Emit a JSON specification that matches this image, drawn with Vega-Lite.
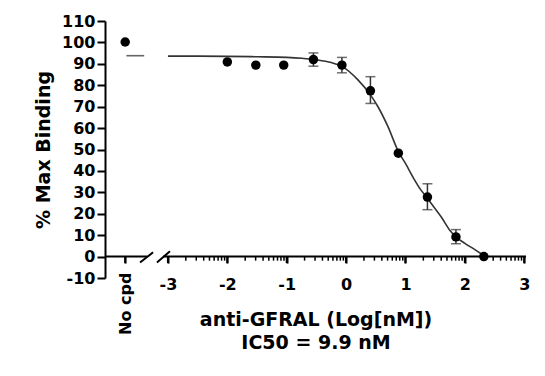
{
  "$schema": "https://vega.github.io/schema/vega-lite/v6.json",
  "width": 421,
  "height": 257,
  "autosize": {"type": "none"},
  "padding": {"left": 105, "top": 21, "right": 19, "bottom": 98},
  "background": "white",
  "config": {"view": {"stroke": null}, "font": "DejaVu Sans"},
  "resolve": {"axis": {"x": "independent", "y": "independent"}},
  "datasets": {
    "axisline": [
      {"x": -4.06, "x2": -3.35, "y": 0},
      {"x": -3.08, "x2": 3.03, "y": 0}
    ],
    "majorticks": [
      {"x": -3.72}, {"x": -3}, {"x": -2}, {"x": -1}, {"x": 0}, {"x": 1}, {"x": 2}, {"x": 3}
    ],
    "minorticks": [
      {"x": -2.69897}, {"x": -2.52288}, {"x": -2.39794}, {"x": -2.30103}, {"x": -2.22185}, {"x": -2.1549}, {"x": -2.09691}, {"x": -2.04576},
      {"x": -1.69897}, {"x": -1.52288}, {"x": -1.39794}, {"x": -1.30103}, {"x": -1.22185}, {"x": -1.1549}, {"x": -1.09691}, {"x": -1.04576},
      {"x": -0.69897}, {"x": -0.52288}, {"x": -0.39794}, {"x": -0.30103}, {"x": -0.22185}, {"x": -0.1549}, {"x": -0.09691}, {"x": -0.04576},
      {"x": 0.30103}, {"x": 0.47712}, {"x": 0.60206}, {"x": 0.69897}, {"x": 0.77815}, {"x": 0.8451}, {"x": 0.90309}, {"x": 0.95424},
      {"x": 1.30103}, {"x": 1.47712}, {"x": 1.60206}, {"x": 1.69897}, {"x": 1.77815}, {"x": 1.8451}, {"x": 1.90309}, {"x": 1.95424},
      {"x": 2.30103}, {"x": 2.47712}, {"x": 2.60206}, {"x": 2.69897}, {"x": 2.77815}, {"x": 2.8451}, {"x": 2.90309}, {"x": 2.95424}
    ],
    "slashes": [
      {"x": -3.47, "x2": -3.25, "y": -2.8, "y2": 2.0},
      {"x": -3.185, "x2": -2.966, "y": -2.8, "y2": 2.5}
    ],
    "curve": [
      {"x": -3.0, "y": 93.6},
      {"x": -2.5, "y": 93.6},
      {"x": -2.0, "y": 93.5},
      {"x": -1.5, "y": 93.3},
      {"x": -1.0, "y": 93.0},
      {"x": -0.75, "y": 92.6},
      {"x": -0.5, "y": 91.9},
      {"x": -0.25, "y": 90.6},
      {"x": -0.07, "y": 88.8},
      {"x": 0.2, "y": 82.5},
      {"x": 0.41, "y": 75.5},
      {"x": 0.53, "y": 70.3},
      {"x": 0.7, "y": 61.0},
      {"x": 0.89, "y": 48.5},
      {"x": 1.0, "y": 43.5},
      {"x": 1.145, "y": 36.2},
      {"x": 1.25, "y": 31.5},
      {"x": 1.37, "y": 27.2},
      {"x": 1.5, "y": 22.3},
      {"x": 1.6, "y": 18.6},
      {"x": 1.76, "y": 11.8},
      {"x": 1.85, "y": 9.2},
      {"x": 2.0, "y": 6.2},
      {"x": 2.15, "y": 3.6},
      {"x": 2.32, "y": 0.5}
    ],
    "dash": [
      {"x": -3.70, "y": 93.8},
      {"x": -3.40, "y": 93.8}
    ],
    "errors": [
      {"x": -0.55, "lo": 88.9, "hi": 95.1},
      {"x": -0.07, "lo": 85.8, "hi": 93.0},
      {"x": 0.41, "lo": 71.5, "hi": 84.0},
      {"x": 1.37, "lo": 21.9, "hi": 34.0},
      {"x": 1.85, "lo": 6.0, "hi": 12.6}
    ],
    "points": [
      {"x": -3.72, "y": 100.2},
      {"x": -2.0, "y": 90.9},
      {"x": -1.52, "y": 89.4},
      {"x": -1.05, "y": 89.4},
      {"x": -0.55, "y": 92.0},
      {"x": -0.07, "y": 89.4},
      {"x": 0.41, "y": 77.4},
      {"x": 0.88, "y": 48.3},
      {"x": 1.37, "y": 27.8},
      {"x": 1.85, "y": 9.2},
      {"x": 2.32, "y": 0.0}
    ]
  },
  "layer": [
    {
      "data": {"name": "axisline"},
      "mark": {"type": "rule", "color": "black", "strokeWidth": 2},
      "encoding": {
        "x": {
          "field": "x",
          "type": "quantitative",
          "scale": {"domain": [-4.06, 3.03], "nice": false, "zero": false},
          "axis": {
            "orient": "bottom",
            "offset": -21.42,
            "domain": false,
            "grid": false,
            "values": [-3, -2, -1, 0, 1, 2, 3],
            "labelExpr": "'' + round(datum.value)",
            "labelOverlap": false,
            "labelFlush": false,
            "labelFont": "DejaVu Sans",
            "labelFontSize": 16,
            "labelFontWeight": "bold",
            "labelColor": "black",
            "labelPadding": 13,
            "tickColor": "black",
            "tickWidth": 2,
            "tickSize": 6.5,
            "title": ["anti-GFRAL (Log[nM])", "IC50 = 9.9 nM"],
            "titleFont": "DejaVu Sans",
            "titleFontSize": 19,
            "titleFontWeight": "bold",
            "titleColor": "black",
            "titleLineHeight": 23,
            "titleBaseline": "top",
            "titleY": 54
          }
        },
        "x2": {"field": "x2"},
        "y": {
          "field": "y",
          "type": "quantitative",
          "scale": {"domain": [-10, 110], "nice": false, "zero": false},
          "axis": {
            "orient": "left",
            "values": [-10, 0, 10, 20, 30, 40, 50, 60, 70, 80, 90, 100, 110],
            "labelExpr": "'' + datum.value",
            "labelOverlap": false,
            "grid": false,
            "domainColor": "black",
            "domainWidth": 2,
            "tickColor": "black",
            "tickWidth": 2,
            "tickSize": 8,
            "labelFont": "DejaVu Sans",
            "labelFontSize": 16,
            "labelFontWeight": "bold",
            "labelColor": "black",
            "labelPadding": 2,
            "title": "% Max Binding",
            "titleFont": "DejaVu Sans",
            "titleFontSize": 19,
            "titleFontWeight": "bold",
            "titleColor": "black",
            "titlePadding": 8
          }
        }
      }
    },
    {
      "data": {"name": "majorticks"},
      "mark": {"type": "rule", "color": "black", "strokeWidth": 2},
      "encoding": {
        "x": {"field": "x", "type": "quantitative", "axis": null},
        "y": {"datum": 0, "type": "quantitative", "axis": null},
        "y2": {"datum": -3.0}
      }
    },
    {
      "data": {"name": "minorticks"},
      "mark": {"type": "rule", "color": "black", "strokeWidth": 1.5},
      "encoding": {
        "x": {"field": "x", "type": "quantitative", "axis": null},
        "y": {"datum": 0, "type": "quantitative", "axis": null},
        "y2": {"datum": -1.9}
      }
    },
    {
      "data": {"name": "slashes"},
      "mark": {"type": "rule", "color": "black", "strokeWidth": 2},
      "encoding": {
        "x": {"field": "x", "type": "quantitative", "axis": null},
        "x2": {"field": "x2"},
        "y": {"field": "y", "type": "quantitative", "axis": null},
        "y2": {"field": "y2"}
      }
    },
    {
      "data": {"name": "curve"},
      "mark": {"type": "line", "color": "#333333", "strokeWidth": 1.6, "interpolate": "monotone"},
      "encoding": {
        "x": {"field": "x", "type": "quantitative", "axis": null},
        "y": {"field": "y", "type": "quantitative", "axis": null}
      }
    },
    {
      "data": {"name": "dash"},
      "mark": {"type": "line", "color": "#666666", "strokeWidth": 1.6},
      "encoding": {
        "x": {"field": "x", "type": "quantitative", "axis": null},
        "y": {"field": "y", "type": "quantitative", "axis": null}
      }
    },
    {
      "data": {"name": "errors"},
      "mark": {"type": "rule", "color": "#333333", "strokeWidth": 1.5},
      "encoding": {
        "x": {"field": "x", "type": "quantitative", "axis": null},
        "y": {"field": "lo", "type": "quantitative", "axis": null},
        "y2": {"field": "hi"}
      }
    },
    {
      "data": {"name": "errors"},
      "mark": {"type": "tick", "color": "#333333", "thickness": 1.5, "size": 10, "orient": "horizontal"},
      "encoding": {
        "x": {"field": "x", "type": "quantitative", "axis": null},
        "y": {"field": "lo", "type": "quantitative", "axis": null}
      }
    },
    {
      "data": {"name": "errors"},
      "mark": {"type": "tick", "color": "#333333", "thickness": 1.5, "size": 10, "orient": "horizontal"},
      "encoding": {
        "x": {"field": "x", "type": "quantitative", "axis": null},
        "y": {"field": "hi", "type": "quantitative", "axis": null}
      }
    },
    {
      "data": {"name": "points"},
      "mark": {"type": "circle", "color": "black", "size": 90, "opacity": 1},
      "encoding": {
        "x": {
          "field": "x",
          "type": "quantitative",
          "axis": {
            "orient": "bottom",
            "offset": -21.42,
            "domain": false,
            "grid": false,
            "values": [-3.72],
            "labelExpr": "'No cpd'",
            "labelAngle": 270,
            "labelFont": "DejaVu Sans",
            "labelFontSize": 16,
            "labelFontWeight": "bold",
            "labelColor": "black",
            "labelPadding": 9,
            "tickColor": "black",
            "tickWidth": 2,
            "tickSize": 6.5,
            "title": null
          }
        },
        "y": {"field": "y", "type": "quantitative", "axis": null}
      }
    }
  ]
}
